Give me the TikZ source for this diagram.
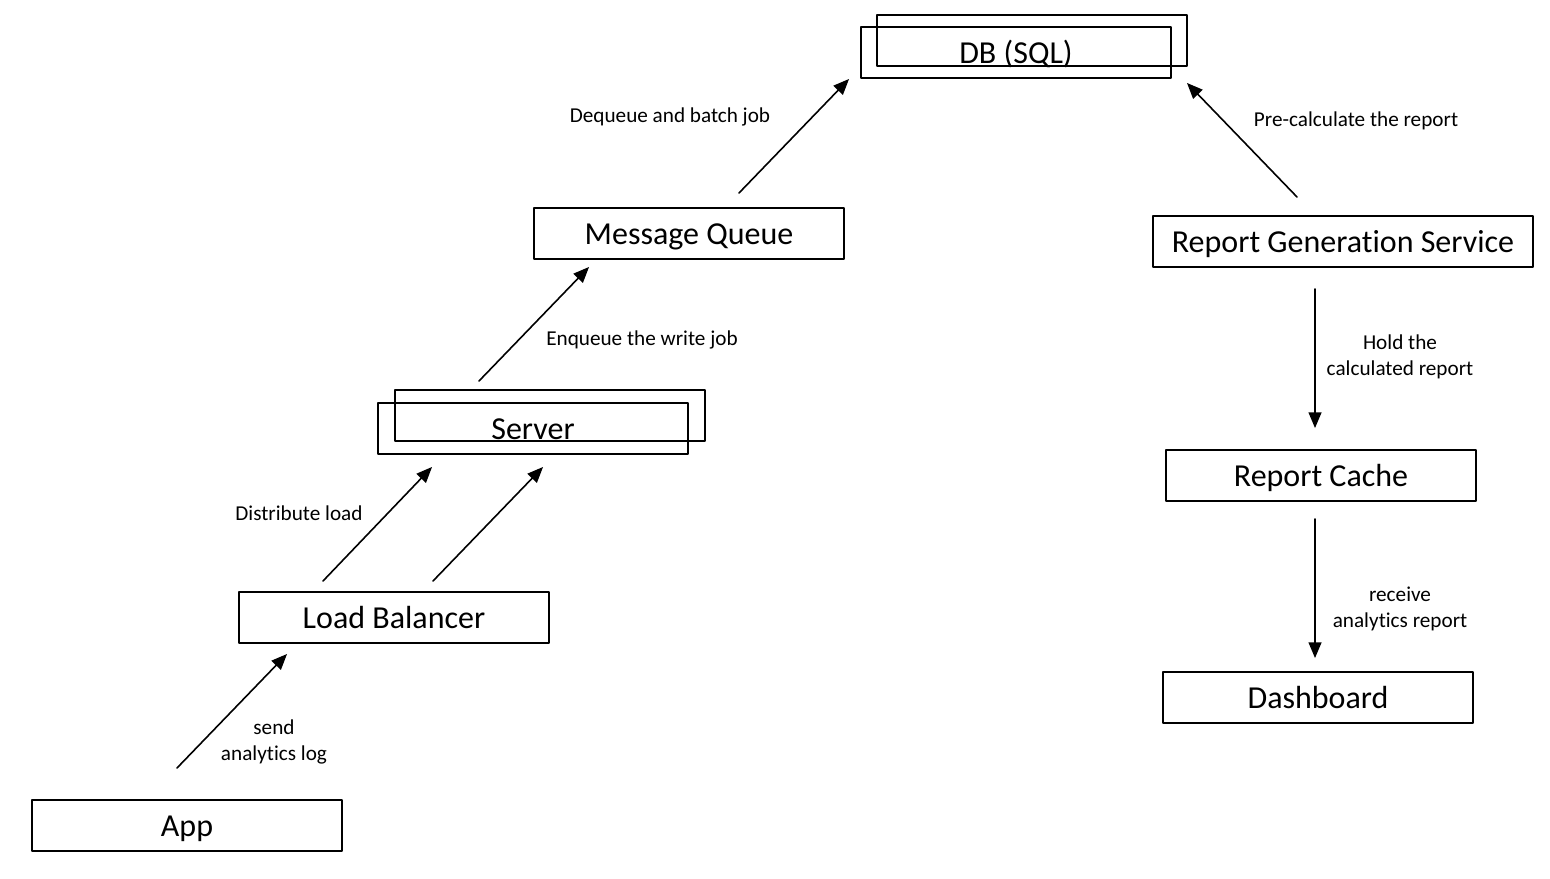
\documentclass[tikz,border=0pt]{standalone}
\usepackage{fontspec}
\setmainfont[Ligatures=NoCommon]{Carlito}
\usetikzlibrary{arrows}

\tikzset{
  box/.style={draw=black,line width=1pt,inner sep=0pt,minimum width=155pt,minimum height=25.5pt,text height=14pt,text depth=3pt,font=\fontsize{16}{18}\selectfont},
  backbox/.style={box,fill=none},
  lbl/.style={align=center,font=\fontsize{10.6}{13}\selectfont},
  flow/.style={->,line width=0.8pt}
}

\begin{document}
\begin{tikzpicture}[line cap=round,line join=round,>=triangle 45,x=0.5pt,y=-0.5pt]
\useasboundingbox (0,0) rectangle (1550,878);
% boxes
\node[backbox] (dbback) at (1032,40) {};
\node[box] (db) at (1016,52) {DB (SQL)};
\node[box] (mq) at (689,233) {Message Queue};
\node[box,minimum width=190pt] (rgs) at (1343,241) {Report Generation Service};
\node[backbox] (serverback) at (550,415) {};
\node[box] (server) at (533,428) {Server};
\node[box] (lb) at (394,617) {Load Balancer};
\node[box] (cache) at (1321,475) {Report Cache};
\node[box] (dash) at (1318,697) {Dashboard};
\node[box] (app) at (187,825) {App};
% arrow ends
\coordinate (appout) at (177,768);
\coordinate (lbin) at (287,654);
\coordinate (lbouta) at (323,581);
\coordinate (serverina) at (432,467);
\coordinate (lboutb) at (433,581);
\coordinate (serverinb) at (543,467);
\coordinate (serverout) at (479,381);
\coordinate (mqin) at (589,267);
\coordinate (mqout) at (739,193);
\coordinate (dbina) at (849,79);
\coordinate (rgsout) at (1297,197);
\coordinate (dbinb) at (1187,83);
\coordinate (rgsdown) at (1315,289);
\coordinate (cachein) at (1315,428);
\coordinate (cacheout) at (1315,519);
\coordinate (dashin) at (1315,658);
% arrows
\draw[flow] (appout) -- (lbin);
\draw[flow] (lbouta) -- (serverina);
\draw[flow] (lboutb) -- (serverinb);
\draw[flow] (serverout) -- (mqin);
\draw[flow] (mqout) -- (dbina);
\draw[flow] (rgsout) -- (dbinb);
\draw[flow] (rgsdown) -- (cachein);
\draw[flow] (cacheout) -- (dashin);
% labels
\node[lbl] (sendlbl) at (274,742) {send\\analytics log};
\node[lbl] (distlbl) at (299,513) {Distribute load};
\node[lbl] (enqlbl) at (642,340) {Enqueue the write job};
\node[lbl] (deqlbl) at (670,117) {Dequeue and batch job};
\node[lbl] (prelbl) at (1356,121) {Pre-calculate the report};
\node[lbl] (holdlbl) at (1400,357) {Hold the\\calculated report};
\node[lbl] (recvlbl) at (1400,609) {receive\\analytics report};
\end{tikzpicture}
\end{document}
